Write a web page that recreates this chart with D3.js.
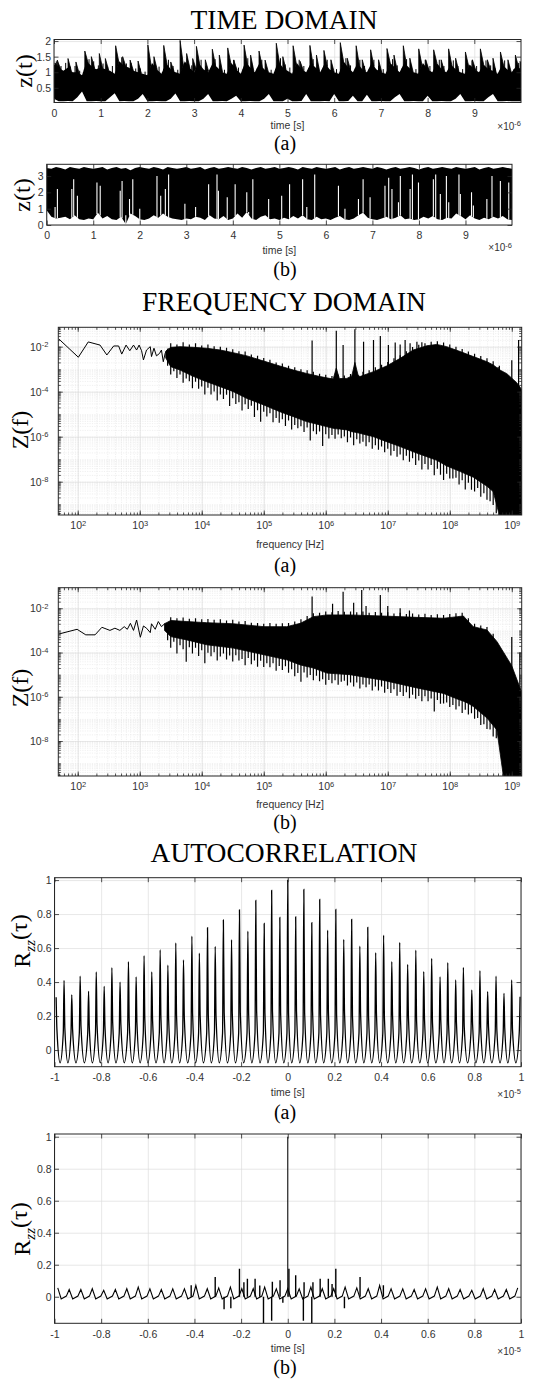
<!DOCTYPE html>
<html>
<head>
<meta charset="utf-8">
<script src="https://cdn.jsdelivr.net/npm/d3@7"></script>
<style>
body { margin: 0; background: #fff; }
svg { font-family: "Liberation Sans", Arial, sans-serif; }
.grid line { stroke: #dcdcdc; stroke-width: 0.7; }
.grid path, .mgrid path, .ax path { display: none; }
.mgrid line { stroke: #e6e6e6; stroke-width: 0.6; stroke-dasharray: 1.2 1.2; }
.ax line { stroke: #262626; stroke-width: 0.8; }
.ax text { fill: #333; font-size: 10.5px; }
</style>
</head>
<body>
<script>
// ---------- TIME DOMAIN (a) : t in us, z(t) ----------
var taT = d3.range(101).map(function(i) { return i / 10; });
var taHi = [1.25,1.15,1.05,1.15,1.0,1.0,0.9,1.35,1.2,1.1,
  1.15,1.1,1.05,0.95,1.35,1.2,1.15,1.05,1.0,0.95,
  0.9,1.3,1.1,0.95,1.3,1.1,1.0,0.95,1.35,1.15,
  1.0,1.3,1.1,1.0,1.3,1.15,1.0,0.95,1.3,1.1,
  0.95,1.35,1.15,1.0,1.3,1.1,1.0,0.95,1.35,1.15,
  1.05,0.95,1.3,1.1,1.0,1.3,1.15,1.0,1.3,1.1,
  1.0,0.95,1.35,1.15,1.0,1.3,1.1,1.0,1.3,1.1,
  1.0,0.95,1.3,1.15,1.0,1.3,1.15,1.0,0.95,1.3,
  1.1,1.0,1.3,1.1,1.0,1.25,1.1,1.0,0.95,1.25,
  1.1,1.0,1.25,1.1,1.05,0.95,1.25,1.1,1.0,1.2,
  1.1];
var taLo = [0.15,0.07,0.07,0.08,0.07,0.2,0.38,0.07,0.07,0.08,
  0.07,0.07,0.2,0.33,0.07,0.08,0.07,0.07,0.15,0.3,
  0.07,0.07,0.08,0.07,0.07,0.15,0.32,0.07,0.07,0.08,
  0.07,0.07,0.15,0.3,0.07,0.07,0.08,0.07,0.15,0.25,
  0.07,0.07,0.08,0.07,0.07,0.15,0.3,0.07,0.07,0.07,
  0.15,0.07,0.07,0.08,0.3,0.07,0.07,0.07,0.08,0.07,
  0.3,0.07,0.07,0.08,0.25,0.07,0.07,0.28,0.07,0.07,
  0.08,0.07,0.07,0.2,0.3,0.07,0.07,0.08,0.07,0.07,
  0.25,0.07,0.07,0.08,0.07,0.07,0.15,0.3,0.07,0.07,
  0.08,0.07,0.07,0.2,0.3,0.07,0.07,0.08,0.07,0.07,
  0.07];
// small needles on the top edge, at t = 0.05, 0.15, ... 9.95
var taFringeV = [1.35,1.2,1.3,1.18,1.2,1.05,1.1,1.42,1.35,1.22,
  1.28,1.18,1.2,1.1,1.48,1.28,1.3,1.12,1.12,1.02,
  1.15,1.4,1.18,1.1,1.4,1.2,1.08,1.12,1.45,1.22,
  1.12,1.4,1.2,1.1,1.42,1.22,1.08,1.1,1.4,1.15,
  1.1,1.45,1.22,1.12,1.4,1.17,1.08,1.1,1.45,1.25,
  1.15,1.1,1.4,1.2,1.12,1.42,1.22,1.1,1.4,1.2,
  1.1,1.1,1.45,1.22,1.12,1.4,1.2,1.1,1.4,1.2,
  1.1,1.1,1.42,1.22,1.12,1.42,1.22,1.1,1.08,1.4,
  1.2,1.1,1.4,1.2,1.1,1.38,1.2,1.1,1.05,1.38,
  1.2,1.1,1.38,1.22,1.12,1.05,1.38,1.2,1.1,1.3];
var taSpikeT = [0.02,0.07,0.30,0.47,0.66,0.80,0.97,1.10,1.32,1.47,1.63,1.80,2.01,2.14,2.35,2.50,2.70,2.84,2.97,3.05,3.24,3.39,3.54,3.72,3.85,4.07,4.21,4.39,4.52,4.76,4.90,5.12,5.27,5.48,5.62,5.78,5.93,6.13,6.28,6.47,6.60,6.78,6.95,7.13,7.28,7.48,7.62,7.81,7.96,8.13,8.29,8.45,8.60,8.81,8.96,9.13,9.28,9.40,9.56,9.72,9.88,9.98];
var taSpikeV = [1.3,1.39,1.44,1.33,1.68,1.5,1.6,1.44,1.85,1.5,1.39,1.36,1.88,1.5,1.86,1.33,2.02,1.6,1.44,1.83,1.4,1.74,1.55,1.78,1.39,1.87,1.55,1.68,1.39,1.93,1.5,1.85,1.35,1.86,1.55,1.7,1.4,1.95,1.45,1.85,1.4,1.72,1.4,1.76,1.55,1.85,1.45,1.75,1.4,1.72,1.4,1.75,1.45,1.65,1.4,1.75,1.4,1.45,1.65,1.4,1.55,1.35];

// ---------- TIME DOMAIN (b) ----------
var tbHi = [3.5,3.45,3.55,3.5,3.4,3.55,3.5,3.45,3.55,3.5,
  3.45,3.5,3.55,3.4,3.5,3.55,3.45,3.5,3.35,3.5,
  3.55,3.5,3.45,3.55,3.5,3.4,3.55,3.5,3.45,3.5,
  3.55,3.45,3.5,3.55,3.4,3.5,3.55,3.45,3.5,3.55,
  3.5,3.45,3.55,3.5,3.4,3.5,3.55,3.45,3.5,3.55,
  3.45,3.5,3.55,3.5,3.4,3.55,3.5,3.45,3.55,3.5,
  3.45,3.5,3.55,3.4,3.5,3.55,3.45,3.5,3.55,3.5,
  3.45,3.55,3.5,3.4,3.5,3.55,3.45,3.5,3.55,3.5,
  3.4,3.5,3.55,3.45,3.5,3.55,3.5,3.45,3.55,3.5,
  3.45,3.5,3.55,3.4,3.5,3.55,3.45,3.5,3.55,3.5,
  3.45];
var tbLo = [0.9,0.5,0.4,0.45,0.5,0.35,0.6,0.35,0.3,0.4,
  0.35,0.75,0.4,0.55,0.35,0.3,0.5,0.05,0.7,0.55,
  0.35,0.3,0.4,0.6,0.45,0.7,0.5,0.4,0.35,0.3,
  0.4,0.35,0.5,0.45,0.3,0.6,0.4,0.35,0.55,0.3,
  0.4,0.7,0.45,0.8,0.4,0.3,0.5,0.6,0.35,0.4,
  0.3,0.45,0.35,0.55,0.4,0.6,0.35,0.3,0.5,0.35,
  0.4,0.3,0.45,0.55,0.35,0.3,0.4,0.6,0.75,0.45,
  0.35,0.3,0.4,0.5,0.35,0.45,0.6,0.35,0.4,0.3,
  0.35,0.5,0.4,0.55,0.35,0.3,0.45,0.4,0.7,0.55,
  0.35,0.6,0.4,0.3,0.45,0.35,0.5,0.4,0.55,0.35,
  0.3];
var tbGapT = [0.18,0.23,0.54,0.58,0.66,1.08,1.15,1.58,1.62,1.70,1.78,1.85,2.0,2.37,2.45,2.55,2.62,2.97,3.20,3.48,3.66,3.69,3.88,4.05,4.30,4.34,4.43,4.77,5.05,5.22,5.50,5.59,5.76,6.27,6.41,6.70,6.80,6.95,7.27,7.35,7.42,7.56,7.60,7.81,7.86,7.99,8.31,8.36,8.46,8.59,8.64,8.86,8.89,9.13,9.17,9.46,9.57,9.75,9.93];
var tbGapV = [1.1,2.2,2.2,2.8,1.8,2.6,2.4,2.1,2.7,0.6,1.6,2.8,1.0,3.0,1.8,2.2,3.1,1.3,1.1,2.5,3.1,2.1,1.7,2.5,2.0,0.8,2.8,1.6,1.8,2.5,2.8,1.1,3.1,2.4,1.0,1.6,2.8,1.7,2.4,2.9,2.2,1.4,3.0,2.2,3.1,2.6,2.8,3.1,1.9,3.0,1.4,3.1,1.9,2.0,1.2,1.6,3.0,2.7,2.6];

// ---------- FREQUENCY DOMAIN (exponents: log10 f, log10 Z) ----------
var faLowF = [1.70,2.01,2.17,2.36,2.47,2.58,2.66,2.71,2.78,2.84,2.90,2.95,2.99,3.03,3.06,3.11,3.17,3.19,3.23,3.27,3.32,3.35,3.38,3.41,3.46];
var faLowV = [-1.67,-2.47,-1.79,-1.93,-2.37,-1.97,-1.97,-2.33,-1.93,-2.18,-1.93,-2.15,-1.93,-2.18,-2.59,-2.15,-2.0,-2.44,-2.07,-2.41,-2.3,-2.15,-2.67,-2.3,-2.07];
var faBandF  = [3.42,3.5,3.65,3.87,4.08,4.3,4.51,4.73,5.0,5.26,5.48,5.69,5.91,6.12,6.17,6.22,6.34,6.42,6.47,6.52,6.55,6.77,6.98,7.2,7.41,7.63,7.79,7.95,8.17,8.38,8.6,8.7,8.81,8.92,9.0,9.08,9.16];
var faBandHi = [-2.2,-2.03,-2.0,-2.03,-2.07,-2.15,-2.27,-2.41,-2.64,-2.86,-3.04,-3.19,-3.33,-3.44,-2.95,-3.42,-3.41,-3.3,-2.7,-3.25,-3.33,-3.11,-2.86,-2.52,-2.15,-1.96,-1.9,-2.0,-2.22,-2.44,-2.67,-2.81,-3.04,-3.2,-3.4,-3.6,-3.9];
var faBandLo = [-2.5,-2.89,-3.04,-3.33,-3.56,-3.78,-4.0,-4.3,-4.59,-4.89,-5.11,-5.33,-5.48,-5.63,-5.65,-5.66,-5.7,-5.78,-5.8,-5.83,-5.85,-6.0,-6.22,-6.44,-6.67,-6.89,-7.05,-7.3,-7.55,-7.8,-8.2,-8.44,-9.6,-9.6,-9.6,-9.6,-9.6];
var faSpkF = [5.78,6.17,6.28,6.47,6.61,6.77,6.88,7.01,7.12,7.2,7.28,7.36,7.47,7.55,8.78,9.0,9.11];
var faSpkV = [-1.73,-1.29,-1.93,-1.23,-1.78,-1.70,-1.53,-1.93,-1.82,-1.9,-1.7,-1.85,-1.78,-1.8,-2.9,-2.6,-1.7];
// top-edge needles at log f = 3.5, 3.6, ... 8.8
var faFringeV = [-1.85,-1.9,-1.8,-1.9,-1.85,-1.95,-1.9,-1.98,-2.0,-2.05,
  -2.12,-2.2,-2.22,-2.35,-2.4,-2.5,-2.58,-2.7,-2.75,-2.85,
  -2.92,-3.0,-3.05,-3.12,-3.2,-3.25,-3.3,-3.25,-3.28,-3.22,
  -3.2,-3.12,-3.05,-2.92,-2.8,-2.68,-2.52,-2.38,-2.2,-2.02,
  -1.92,-1.85,-1.78,-1.76,-1.82,-1.9,-2.0,-2.1,-2.22,-2.32,
  -2.42,-2.52,-2.65,-2.85];
// bottom-edge needles at log f = 3.45, 3.50, ... 8.75
var faDipV = [-2.85,-3.24,-3.09,-3.39,-3.24,-3.60,-3.42,-3.54,-3.85,-3.56,
  -3.87,-3.77,-4.13,-3.83,-4.13,-3.99,-4.39,-4.13,-4.33,-4.14,
  -4.64,-4.29,-4.55,-4.47,-4.84,-4.56,-4.77,-4.63,-5.13,-4.83,
  -5.34,-4.89,-5.10,-4.96,-5.36,-5.17,-5.38,-5.23,-5.53,-5.28,
  -5.68,-5.48,-5.63,-5.54,-5.79,-5.59,-6.17,-5.76,-5.89,-5.77,
  -6.41,-5.89,-6.08,-5.92,-6.09,-5.90,-6.07,-5.99,-6.25,-6.04,
  -6.38,-6.11,-6.30,-6.23,-6.42,-6.25,-6.54,-6.38,-6.58,-6.44,
  -6.69,-6.54,-6.84,-6.64,-6.89,-6.79,-7.05,-6.85,-7.11,-6.96,
  -7.26,-7.06,-7.46,-7.21,-7.46,-7.26,-7.71,-7.42,-7.69,-7.92,
  -7.65,-7.86,-7.86,-7.82,-8.13,-7.94,-8.35,-8.05,-8.36,-8.44,
  -8.28,-8.67,-8.51,-8.80,-8.87,-9.04,-9.4];

var fbLowF = [1.70,1.99,2.13,2.28,2.39,2.52,2.60,2.68,2.75,2.80,2.85,2.90,2.95,3.01,3.06,3.11,3.17,3.19,3.25,3.30,3.35,3.41];
var fbLowV = [-3.16,-2.95,-3.2,-3.2,-2.86,-3.0,-2.9,-3.0,-2.83,-2.95,-2.68,-3.0,-2.53,-3.31,-2.8,-2.9,-3.1,-2.7,-2.95,-2.6,-2.83,-2.68];
var fbBandF  = [3.4,3.5,3.76,4.08,4.51,5.0,5.37,5.59,5.8,6.02,6.39,6.92,7.47,7.9,8.12,8.22,8.3,8.38,8.6,8.76,8.87,9.0,9.08,9.16];
var fbBandHi = [-2.7,-2.55,-2.6,-2.65,-2.7,-2.83,-2.83,-2.68,-2.38,-2.3,-2.3,-2.35,-2.41,-2.45,-2.38,-2.35,-2.6,-2.83,-2.98,-3.5,-4.0,-4.6,-5.2,-5.8];
var fbBandLo = [-3.0,-3.28,-3.43,-3.65,-3.8,-4.1,-4.33,-4.56,-4.7,-4.93,-5.0,-5.25,-5.6,-5.85,-6.1,-6.2,-6.3,-6.44,-6.96,-7.5,-9.7,-9.7,-9.7,-9.7];
var fbSpkF = [5.78,6.11,6.28,6.45,6.58,6.65,6.88,7.0,7.2,7.35,9.0,9.13];
var fbSpkV = [-1.47,-1.8,-1.25,-1.75,-1.17,-1.9,-1.4,-1.9,-2.0,-2.1,-3.3,-4.0];
var fbFringeV = [-2.4,-2.45,-2.42,-2.47,-2.45,-2.5,-2.48,-2.52,-2.5,-2.55,
  -2.52,-2.6,-2.58,-2.65,-2.66,-2.7,-2.66,-2.7,-2.68,-2.66,
  -2.6,-2.5,-2.35,-2.22,-2.2,-2.15,-2.18,-2.12,-2.16,-2.14,
  -2.18,-2.15,-2.2,-2.17,-2.2,-2.18,-2.24,-2.2,-2.26,-2.24,
  -2.28,-2.25,-2.3,-2.27,-2.3,-2.26,-2.22,-2.2,-2.45,-2.7,
  -2.78,-2.85,-3.15];
var fbDipV = [-3.44,-3.78,-3.51,-4.04,-3.67,-3.85,-4.42,-3.76,-4.04,-3.78,
  -4.16,-3.90,-4.48,-4.01,-4.17,-3.99,-4.36,-4.18,-4.04,-4.31,
  -4.13,-4.40,-4.12,-4.36,-4.29,-4.57,-4.25,-4.53,-4.36,-4.64,
  -4.37,-4.65,-4.48,-4.66,-4.49,-4.82,-4.61,-4.79,-4.62,-4.91,
  -4.76,-5.07,-4.92,-5.32,-4.90,-5.13,-5.02,-5.25,-5.05,-5.30,
  -5.21,-5.46,-5.24,-5.39,-5.25,-5.46,-5.32,-5.28,-5.49,-5.35,
  -5.53,-5.35,-5.63,-5.45,-5.57,-5.45,-5.72,-5.54,-5.72,-5.54,
  -5.82,-5.65,-5.83,-5.66,-5.95,-5.78,-5.96,-5.79,-6.07,-5.91,
  -6.09,-5.97,-6.20,-5.98,-6.20,-6.08,-6.66,-6.14,-6.32,-6.30,
  -6.26,-6.46,-6.37,-6.58,-6.43,-6.73,-6.59,-6.80,-6.74,-6.99,
  -6.96,-7.27,-7.24,-7.46,-7.48,-7.80,-7.87];

// ---------- AUTOCORRELATION (tau in units of 1e-5 s) ----------
var raPeakT = [-0.993,-0.959,-0.926,-0.890,-0.854,-0.821,-0.787,-0.754,-0.719,-0.683,-0.650,-0.616,-0.583,-0.547,-0.514,-0.480,-0.447,-0.411,-0.379,-0.344,-0.311,-0.276,-0.241,-0.207,-0.171,-0.137,-0.101,-0.069,-0.034,
  0,
  0.034,0.069,0.103,0.137,0.171,0.206,0.240,0.274,0.309,0.343,0.377,0.411,0.446,0.480,0.514,0.549,0.583,0.617,0.653,0.686,0.720,0.753,0.789,0.824,0.857,0.893,0.927,0.960,0.996];
var raPeakV = [0.31,0.41,0.325,0.435,0.345,0.46,0.375,0.485,0.40,0.52,0.43,0.555,0.46,0.59,0.50,0.63,0.53,0.67,0.57,0.72,0.61,0.765,0.65,0.825,0.70,0.88,0.745,0.94,0.78,
  1.0,
  0.784,0.945,0.749,0.886,0.706,0.827,0.651,0.769,0.612,0.722,0.573,0.676,0.520,0.633,0.504,0.588,0.461,0.539,0.431,0.514,0.412,0.486,0.353,0.467,0.343,0.435,0.333,0.412,0.314];
// shoulder on the falling flank after each peak
var raMidV = [0.12,0.13,0.12,0.14,0.13,0.15,0.14,0.16,0.15,0.17,0.16,0.18,0.17,0.19,0.18,0.2,0.19,0.21,0.2,0.21,0.2,0.22,0.21,0.22,0.21,0.23,0.22,0.23,0.22,
  0.22,0.23,0.22,0.23,0.21,0.22,0.21,0.22,0.2,0.21,0.2,0.21,0.19,0.2,0.18,0.19,0.17,0.18,0.16,0.17,0.15,0.16,0.14,0.15,0.13,0.14,0.12,0.13,0.12];
var raRiseV = 0.1;      // shoulder on the rising flank before each peak
var raTrough = -0.075;  // bottom of the U between peaks

var rbRipT = [-0.986,-0.937,-0.887,-0.838,-0.789,-0.739,-0.690,-0.641,-0.591,-0.542,-0.493,-0.443,-0.394,-0.345,-0.296,-0.246,-0.197,-0.148,-0.099,-0.049,0,
  0.049,0.099,0.148,0.197,0.246,0.296,0.345,0.394,0.443,0.493,0.542,0.591,0.641,0.690,0.739,0.789,0.838,0.887,0.937,0.986];
var rbRipV = [0.055,0.045,0.045,0.05,0.04,0.045,0.05,0.06,0.05,0.045,0.05,0.05,0.07,0.05,0.055,0.06,0.05,0.05,0.06,0.05,0.05,
  0.05,0.06,0.05,0.05,0.06,0.055,0.05,0.07,0.05,0.05,0.045,0.05,0.06,0.05,0.045,0.04,0.05,0.045,0.045,0.055];
var rbTrough = -0.014, rbShoulder = 0.004;
var rbSpkT = [-0.414,-0.311,-0.273,-0.244,-0.207,-0.188,-0.173,-0.14,-0.12,-0.104,-0.069,-0.066,-0.033,-0.021,0,0.005,0.034,0.067,0.07,0.103,0.108,0.139,0.174,0.19,0.206,0.243,0.31,0.41];
var rbSpkV = [0.072,0.124,-0.078,-0.072,0.175,0.09,0.113,0.113,0.07,-0.165,-0.15,0.093,0.103,-0.037,1.0,0.175,0.134,-0.15,0.09,-0.165,0.09,0.113,0.113,0.08,0.175,-0.072,0.124,0.072];

// ---------- drawing ----------
var svg = d3.select("body").append("svg").attr("width", 558).attr("height", 1382);
var serif = "'Liberation Serif','Times New Roman',serif";
var clipN = 0;

function heading(txt, y) {
  svg.append("text").attr("x", 284).attr("y", y).attr("text-anchor", "middle")
    .style("font-family", serif).style("font-size", "27.5px").text(txt);
}
function caption(txt, y) {
  svg.append("text").attr("x", 285).attr("y", y).attr("text-anchor", "middle")
    .style("font-family", serif).style("font-size", "20px").text(txt);
}
function supText(sel, base, exp) {
  sel.text(null);
  sel.append("tspan").text(base);
  sel.append("tspan").attr("dy", "-0.45em").style("font-size", "7.5px").text(exp);
}

function panel(o) {
  var w = o.right - o.left, h = o.bottom - o.top;
  o.x.range([0, w]); o.y.range([h, 0]);
  var g = svg.append("g").attr("transform", "translate(" + o.left + "," + o.top + ")");
  var id = "clip" + (clipN++);
  g.append("clipPath").attr("id", id).append("rect").attr("width", w).attr("height", h);
  if (o.xMinor) g.append("g").attr("class", "mgrid").attr("transform", "translate(0," + h + ")")
    .call(d3.axisBottom(o.x).tickValues(o.xMinor).tickSize(-h).tickFormat(""));
  if (o.yMinor) g.append("g").attr("class", "mgrid")
    .call(d3.axisLeft(o.y).tickValues(o.yMinor).tickSize(-w).tickFormat(""));
  g.append("g").attr("class", "grid").attr("transform", "translate(0," + h + ")")
    .call(d3.axisBottom(o.x).tickValues(o.xTicks).tickSize(-h).tickFormat(""));
  g.append("g").attr("class", "grid")
    .call(d3.axisLeft(o.y).tickValues(o.yTicks).tickSize(-w).tickFormat(""));
  o.plot = g.append("g").attr("clip-path", "url(#" + id + ")");
  o.g = g; o.w = w; o.h = h;
  return o;
}

function finish(o) {
  var g = o.g, w = o.w, h = o.h;
  if (o.xMinor) {
    g.append("g").attr("class", "ax").attr("transform", "translate(0," + h + ")")
      .call(d3.axisBottom(o.x).tickValues(o.xMinor).tickSize(-2.5).tickFormat(""));
    g.append("g").attr("class", "ax").call(d3.axisTop(o.x).tickValues(o.xMinor).tickSize(-2.5).tickFormat(""));
  }
  if (o.yMinor) {
    g.append("g").attr("class", "ax").call(d3.axisLeft(o.y).tickValues(o.yMinor).tickSize(-2.5).tickFormat(""));
    g.append("g").attr("class", "ax").attr("transform", "translate(" + w + ",0)")
      .call(d3.axisRight(o.y).tickValues(o.yMinor).tickSize(-2.5).tickFormat(""));
  }
  var xb = g.append("g").attr("class", "ax").attr("transform", "translate(0," + h + ")")
    .call(d3.axisBottom(o.x).tickValues(o.xTicks).tickSize(-4.5).tickPadding(7).tickFormat(o.xFmt || ""));
  g.append("g").attr("class", "ax").call(d3.axisTop(o.x).tickValues(o.xTicks).tickSize(-4.5).tickFormat(""));
  var yl = g.append("g").attr("class", "ax")
    .call(d3.axisLeft(o.y).tickValues(o.yTicks).tickSize(-4.5).tickPadding(o.yPad || 3).tickFormat(o.yFmt || ""));
  g.append("g").attr("class", "ax").attr("transform", "translate(" + w + ",0)")
    .call(d3.axisRight(o.y).tickValues(o.yTicks).tickSize(-4.5).tickFormat(""));
  if (o.log) {
    xb.selectAll(".tick text").each(function(d) { supText(d3.select(this), "10", Math.round(Math.log10(d))); });
    yl.selectAll(".tick text").each(function(d) { supText(d3.select(this), "10", Math.round(Math.log10(d))); });
  }
  g.append("rect").attr("width", w).attr("height", h)
    .attr("fill", "none").attr("stroke", "#262626").attr("stroke-width", 1);
  g.append("text").attr("x", w / 2).attr("y", h + o.xlabDy).attr("text-anchor", "middle")
    .style("font-size", "10.5px").attr("fill", "#333").text(o.xlab);
  if (o.exp) {
    var t = g.append("text").attr("x", w).attr("y", h + o.expDy).attr("text-anchor", "end")
      .style("font-size", "10px").attr("fill", "#333");
    t.append("tspan").text("\u00d710");
    t.append("tspan").attr("dy", "-0.45em").style("font-size", "7.5px").text(o.exp);
  }
  var yt = svg.append("text").attr("transform", "translate(" + o.ylabX + "," + o.ylabY + ") rotate(-90)")
    .attr("text-anchor", "middle").style("font-family", serif).style("font-size", "24px");
  o.ylab(yt);
}

function numFmt(d) { return String(+d.toFixed(1)); }

// ===== TIME DOMAIN =====
heading("TIME DOMAIN", 29);

var pa = panel({ left: 54, right: 521, top: 39.5, bottom: 102.5,
  x: d3.scaleLinear().domain([0, 10]), y: d3.scaleLinear().domain([0.03, 2.05]),
  xTicks: d3.range(0, 10), yTicks: [0.5, 1, 1.5, 2] });
var taRows = taT.map(function(t, i) { return { t: t, hi: taHi[i], lo: taLo[i] }; });
pa.plot.append("path").datum(taRows).attr("fill", "#000")
  .attr("d", d3.area().x(function(d) { return pa.x(d.t); })
    .y0(function(d) { return pa.y(d.lo); }).y1(function(d) { return pa.y(d.hi); }));
var taHiAt = d3.scaleLinear().domain(taT).range(taHi).clamp(true);
pa.plot.selectAll("line.fr").data(taFringeV).enter().append("line")
  .attr("x1", function(v, i) { return pa.x(0.05 + i / 10); }).attr("x2", function(v, i) { return pa.x(0.05 + i / 10); })
  .attr("y1", function(v, i) { return pa.y(taHiAt(0.05 + i / 10) - 0.1); })
  .attr("y2", function(v) { return pa.y(v); })
  .attr("stroke", "#000").attr("stroke-width", 1);
// spikes drawn as sawtooth teeth: sharp rise, quick decay back to the body
pa.plot.selectAll("path.sp").data(taSpikeT).enter().append("path")
  .attr("d", function(t, i) {
    return "M" + pa.x(t) + "," + pa.y(taHiAt(t) - 0.1) + "L" + pa.x(t) + "," + pa.y(taSpikeV[i]) +
      "L" + pa.x(t + 0.07) + "," + pa.y(taHiAt(t + 0.07)) + "Z";
  })
  .attr("fill", "#000").attr("stroke", "#000").attr("stroke-width", 0.8);
finish(Object.assign(pa, { xFmt: d3.format("d"), yFmt: numFmt, xlab: "time [s]", xlabDy: 26.5,
  exp: "-6", expDy: 27, ylabX: 32, ylabY: 71,
  ylab: function(t) { t.text("z(t)"); } }));
caption("(a)", 150);

var pb = panel({ left: 46.7, right: 512, top: 164.3, bottom: 225,
  x: d3.scaleLinear().domain([0, 10]), y: d3.scaleLinear().domain([0, 3.72]),
  xTicks: d3.range(0, 10), yTicks: [0, 1, 2, 3] });
var tbRows = taT.map(function(t, i) { return { t: t, hi: tbHi[i], lo: tbLo[i] }; });
pb.plot.append("path").datum(tbRows).attr("fill", "#000")
  .attr("d", d3.area().x(function(d) { return pb.x(d.t); })
    .y0(function(d) { return pb.y(d.lo); }).y1(function(d) { return pb.y(d.hi); }));
var tbLoAt = d3.scaleLinear().domain(taT).range(tbLo);
pb.plot.selectAll("line.gap").data(tbGapT).enter().append("line")
  .attr("x1", function(t) { return pb.x(t); }).attr("x2", function(t) { return pb.x(t); })
  .attr("y1", function(t) { return pb.y(tbLoAt(t)); })
  .attr("y2", function(t, i) { return pb.y(tbGapV[i]); })
  .attr("stroke", "#fff").attr("stroke-width", 1.1);
finish(Object.assign(pb, { xFmt: d3.format("d"), yFmt: d3.format("d"), xlab: "time [s]", xlabDy: 29,
  exp: "-6", expDy: 26, ylabX: 30, ylabY: 195,
  ylab: function(t) { t.text("z(t)"); } }));
caption("(b)", 276);

// ===== FREQUENCY DOMAIN =====
heading("FREQUENCY DOMAIN", 311);

function p10(e) { return Math.pow(10, e); }
function minorLog(lo, hi, dom) {
  var out = [];
  for (var n = lo; n <= hi; n++) for (var k = 1; k <= 9; k++) out.push(k * Math.pow(10, n));
  return out.filter(function(v) { return v >= dom[0] && v <= dom[1]; });
}

function needles(p, cls, fs, vs, baseAt, off) {
  p.plot.selectAll("line." + cls).data(fs).enter().append("line")
    .attr("x1", function(f) { return p.x(p10(f)); }).attr("x2", function(f) { return p.x(p10(f)); })
    .attr("y1", function(f) { return p.y(p10(baseAt(f) + off)); })
    .attr("y2", function(f, i) { return p.y(p10(vs[i])); })
    .attr("stroke", "#000").attr("stroke-width", 1.2);
}

function spectrum(p, s) {
  var rows = s.bandF.map(function(f, i) { return { f: f, hi: s.bandHi[i], lo: s.bandLo[i] }; });
  p.plot.append("path").datum(rows).attr("fill", "#000").attr("stroke", "#000").attr("stroke-width", 0.8)
    .attr("d", d3.area().x(function(d) { return p.x(p10(d.f)); })
      .y0(function(d) { return p.y(p10(d.lo)); }).y1(function(d) { return p.y(p10(d.hi)); }));
  var low = s.lowF.map(function(f, i) { return [f, s.lowV[i]]; });
  p.plot.append("path").datum(low).attr("fill", "none").attr("stroke", "#000").attr("stroke-width", 1)
    .attr("d", d3.line().x(function(d) { return p.x(p10(d[0])); }).y(function(d) { return p.y(p10(d[1])); }));
  var hiAt = d3.scaleLinear().domain(s.bandF).range(s.bandHi).clamp(true);
  var loAt = d3.scaleLinear().domain(s.bandF).range(s.bandLo).clamp(true);
  var fringeF = s.fringeV.map(function(v, i) { return 3.5 + i * 0.1; });
  var dipF = s.dipV.map(function(v, i) { return 3.45 + i * 0.05; });
  needles(p, "fr", fringeF, s.fringeV, hiAt, -0.2);
  needles(p, "dip", dipF, s.dipV, loAt, 0.2);
  needles(p, "spk", s.spkF, s.spkV, hiAt, -0.3);
}

var freqX = [1e2, 1e3, 1e4, 1e5, 1e6, 1e7, 1e8, 1e9];
var freqY = [1e-8, 1e-6, 1e-4, 1e-2];

var faXd = [p10(1.687), p10(9.16)], faYd = [p10(-9.48), p10(-1.14)];
var fa = panel({ left: 58.3, right: 521.7, top: 327.3, bottom: 515,
  x: d3.scaleLog().domain(faXd), y: d3.scaleLog().domain(faYd),
  xTicks: freqX, yTicks: freqY, xMinor: minorLog(1, 9, faXd), yMinor: minorLog(-10, -2, faYd) });
spectrum(fa, { lowF: faLowF, lowV: faLowV, bandF: faBandF, bandHi: faBandHi, bandLo: faBandLo,
  spkF: faSpkF, spkV: faSpkV, fringeV: faFringeV, dipV: faDipV });
finish(Object.assign(fa, { log: true, xFmt: String, yFmt: String, yPad: 10, xlab: "frequency [Hz]", xlabDy: 33,
  ylabX: 28, ylabY: 430, ylab: function(t) { t.text("Z(f)"); } }));
caption("(a)", 572);

var fbXd = [p10(1.687), p10(9.16)], fbYd = [p10(-9.58), p10(-1.07)];
var fb = panel({ left: 58.3, right: 521.7, top: 587.7, bottom: 776,
  x: d3.scaleLog().domain(fbXd), y: d3.scaleLog().domain(fbYd),
  xTicks: freqX, yTicks: freqY, xMinor: minorLog(1, 9, fbXd), yMinor: minorLog(-10, -2, fbYd) });
spectrum(fb, { lowF: fbLowF, lowV: fbLowV, bandF: fbBandF, bandHi: fbBandHi, bandLo: fbBandLo,
  spkF: fbSpkF, spkV: fbSpkV, fringeV: fbFringeV, dipV: fbDipV });
finish(Object.assign(fb, { log: true, xFmt: String, yFmt: String, yPad: 10, xlab: "frequency [Hz]", xlabDy: 32,
  ylabX: 28, ylabY: 688, ylab: function(t) { t.text("Z(f)"); } }));
caption("(b)", 829);

// ===== AUTOCORRELATION =====
heading("AUTOCORRELATION", 862);

function rzz(t) {
  t.text("R");
  t.append("tspan").attr("dy", "0.3em").style("font-size", "15px").style("font-style", "italic").text("zz");
  t.append("tspan").attr("dy", "-0.3em").text("(\u03c4)");
}
var acX = [-1, -0.8, -0.6, -0.4, -0.2, 0, 0.2, 0.4, 0.6, 0.8, 1];
var acY = [0, 0.2, 0.4, 0.6, 0.8, 1];

var ra = panel({ left: 54.5, right: 521, top: 877.7, bottom: 1066.7,
  x: d3.scaleLinear().domain([-1, 1]), y: d3.scaleLinear().domain([-0.098, 1.014]),
  xTicks: acX, yTicks: acY });
var raPts = [];
raPeakT.forEach(function(t, i) {
  raPts.push([t, raPeakV[i]]);
  if (i < raPeakT.length - 1) {
    var q = raPeakT[i + 1] - t;
    raPts.push([t + q * 0.1, raMidV[i]]);
    raPts.push([t + q * 0.5, raTrough]);
    raPts.push([t + q * 0.9, raRiseV]);
  }
});
ra.plot.append("path").datum(raPts).attr("fill", "none").attr("stroke", "#000").attr("stroke-width", 1.3)
  .attr("d", d3.line().curve(d3.curveMonotoneX)
    .x(function(d) { return ra.x(d[0]); }).y(function(d) { return ra.y(d[1]); }));
finish(Object.assign(ra, { xFmt: numFmt, yFmt: numFmt, xlab: "time [s]", xlabDy: 29,
  exp: "-5", expDy: 31, ylabX: 30, ylabY: 941, ylab: rzz }));
caption("(a)", 1119);

var rb = panel({ left: 54.5, right: 521, top: 1134, bottom: 1323.3,
  x: d3.scaleLinear().domain([-1, 1]), y: d3.scaleLinear().domain([-0.166, 1.017]),
  xTicks: acX, yTicks: acY });
var rbPts = [];
rbRipT.forEach(function(t, i) {
  rbPts.push([t, rbRipV[i]]);
  if (i < rbRipT.length - 1) {
    var q = rbRipT[i + 1] - t;
    rbPts.push([t + q * 0.3, rbTrough]);
    rbPts.push([t + q * 0.75, rbShoulder]);
  }
});
rb.plot.append("path").datum(rbPts).attr("fill", "none").attr("stroke", "#000").attr("stroke-width", 1.1)
  .attr("d", d3.line().x(function(d) { return rb.x(d[0]); }).y(function(d) { return rb.y(d[1]); }));
rb.plot.selectAll("line.sp").data(rbSpkT).enter().append("line")
  .attr("x1", function(t) { return rb.x(t); }).attr("x2", function(t) { return rb.x(t); })
  .attr("y1", rb.y(0)).attr("y2", function(t, i) { return rb.y(rbSpkV[i]); })
  .attr("stroke", "#000").attr("stroke-width", function(t, i) { return rbSpkV[i] === 1 ? 1 : 1.4; });
finish(Object.assign(rb, { xFmt: numFmt, yFmt: numFmt, xlab: "time [s]", xlabDy: 29,
  exp: "-5", expDy: 32, ylabX: 30, ylabY: 1229, ylab: rzz }));
caption("(b)", 1374);
</script>
</body>
</html>
